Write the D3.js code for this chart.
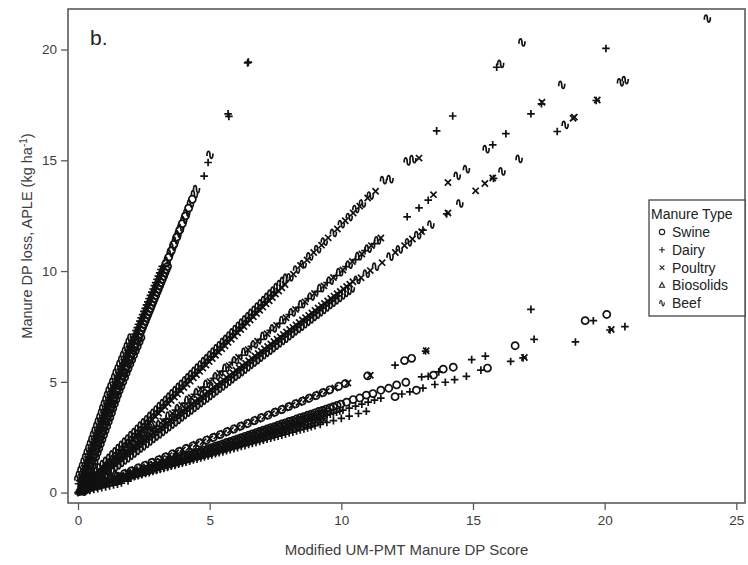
<!DOCTYPE html>
<html><head><meta charset="utf-8">
<script src="https://cdn.jsdelivr.net/npm/d3@7"></script>
<style>body{margin:0;background:#fff}svg{display:block;font-family:"Liberation Sans",Arial,sans-serif}</style>
</head><body><svg id="chart" width="748" height="565"></svg>
<script>
// Axis ticks
const xTicks = [0, 5, 10, 15, 20, 25];
const yTicks = [0, 5, 10, 15, 20];
const manureTypes = ["Swine", "Dairy", "Poultry", "Biosolids", "Beef"];

// Points: [UM-PMT manure DP score, APLE manure DP loss]
const swine = [
  [0.22,0.40],[0.26,0.54],[0.30,0.67],[0.34,0.80],[0.38,0.94],[0.42,1.07],[0.46,1.21],[0.50,1.34],[0.54,1.47],[0.58,1.61],[0.62,1.74],[0.66,1.88],[0.70,2.01],[0.74,2.14],[0.78,2.28],[0.82,2.41],[0.86,2.55],[0.90,2.68],[0.94,2.81],[0.98,2.95],[1.02,3.08],[1.06,3.22],[1.10,3.35],[1.14,3.48],[1.18,3.62],[1.22,3.75],[1.26,3.89],[1.30,4.02],[1.34,4.15],[1.38,4.29],[1.42,4.42],[1.46,4.56],[1.50,4.69],
  [1.55,4.84],[1.60,4.98],[1.65,5.13],[1.70,5.27],[1.75,5.42],[1.80,5.56],[1.85,5.71],[1.90,5.85],[1.95,6.00],[2.00,6.14],[2.05,6.29],[2.10,6.43],[2.15,6.58],[2.20,6.72],[2.25,6.87],[2.30,7.01],[2.35,7.16],[2.40,7.31],[2.45,7.45],[2.50,7.60],[2.55,7.74],[2.60,7.89],[2.65,8.03],[2.70,8.18],[2.75,8.32],[2.80,8.47],[2.85,8.61],[2.90,8.76],[2.95,8.90],[3.00,9.05],[3.05,9.19],[3.10,9.34],[3.15,9.48],[3.20,9.63],[3.25,9.77],[3.30,9.92],[3.35,10.07],[3.40,10.21],
  [0.37,0.6],[0.43,0.8],[0.49,1.0],[0.55,1.2],[0.61,1.4],[0.67,1.6],[0.73,1.8],[0.79,2.0],[0.85,2.2],[0.91,2.4],[0.97,2.6],[1.03,2.8],[1.09,3.0],[1.15,3.2],[1.21,3.4],[1.27,3.6],[1.32,3.8],[1.38,4.0],[1.44,4.2],[1.50,4.4],[1.56,4.6],[1.63,4.8],[1.70,5.0],[1.77,5.2],[1.83,5.4],[1.90,5.6],[1.97,5.8],[2.04,6.0],[2.11,6.2],[2.18,6.4],[2.25,6.6],[2.32,6.8],[2.39,7.0],
  [3.35,10.36],[3.44,10.62],[3.54,10.91],[3.64,11.2],[3.75,11.53],[3.86,11.85],[3.96,12.14],[4.08,12.49],[4.2,12.84],[4.34,13.24],
  [0.20,0.10],[0.46,0.22],[0.72,0.35],[0.98,0.48],[1.24,0.60],[1.50,0.73],[1.76,0.85],[2.02,0.98],[2.28,1.11],[2.54,1.23],[2.80,1.36],[3.06,1.48],[3.32,1.61],[3.58,1.74],[3.84,1.86],[4.10,1.99],[4.36,2.11],[4.62,2.24],[4.88,2.37],[5.14,2.49],[5.40,2.62],[5.66,2.75],[5.92,2.87],[6.18,3.00],[6.44,3.12],[6.70,3.25],[6.96,3.38],[7.22,3.50],[7.48,3.63],[7.74,3.75],[8.00,3.88],[8.26,4.01],[8.52,4.13],[8.78,4.26],[9.04,4.38],[9.30,4.51],[9.56,4.64],
  [2.00,0.80],[2.14,0.86],[2.28,0.91],[2.42,0.97],[2.56,1.02],[2.70,1.08],[2.84,1.14],[2.98,1.19],[3.12,1.25],[3.26,1.30],[3.40,1.36],[3.54,1.42],[3.68,1.47],[3.82,1.53],[3.96,1.58],[4.10,1.64],[4.24,1.70],[4.38,1.75],[4.52,1.81],[4.66,1.86],[4.80,1.92],[4.94,1.98],[5.08,2.03],[5.22,2.09],[5.36,2.14],[5.50,2.20],[5.64,2.26],[5.78,2.31],[5.92,2.37],[6.06,2.42],[6.20,2.48],[6.34,2.54],[6.48,2.59],[6.62,2.65],[6.76,2.70],[6.90,2.76],[7.04,2.82],[7.18,2.87],[7.32,2.93],[7.46,2.98],[7.60,3.04],[7.74,3.10],[7.88,3.15],[8.02,3.21],[8.16,3.26],[8.30,3.32],[8.44,3.38],[8.58,3.43],[8.72,3.49],[8.86,3.54],[9.00,3.60],[9.14,3.66],[9.28,3.71],[9.42,3.77],[9.56,3.82],[9.70,3.88],[9.84,3.94],[9.98,3.99],
  [10.2,4.08],[10.45,4.2],[10.7,4.27],[10.95,4.4],[11.2,4.47],[11.5,4.62],[11.8,4.71],[12.1,4.86],[12.45,4.98],
  [1.50,0.58],[1.64,0.63],[1.78,0.69],[1.92,0.74],[2.06,0.79],[2.20,0.85],[2.34,0.90],[2.48,0.95],[2.62,1.01],[2.76,1.06],[2.90,1.12],[3.04,1.17],[3.18,1.22],[3.32,1.28],[3.46,1.33],[3.60,1.39],[3.74,1.44],[3.88,1.49],[4.02,1.55],[4.16,1.60],[4.30,1.66],[4.44,1.71],[4.58,1.76],[4.72,1.82],[4.86,1.87],[5.00,1.93],[5.14,1.98],[5.28,2.03],[5.42,2.09],[5.56,2.14],[5.70,2.19],[5.84,2.25],[5.98,2.30],[6.12,2.36],[6.26,2.41],[6.40,2.46],[6.54,2.52],[6.68,2.57],[6.82,2.63],[6.96,2.68],[7.10,2.73],[7.24,2.79],[7.38,2.84],[7.52,2.90],[7.66,2.95],[7.80,3.00],[7.94,3.06],[8.08,3.11],[8.22,3.16],[8.36,3.22],[8.50,3.27],[8.64,3.33],[8.78,3.38],[8.92,3.43],[9.06,3.49],[9.20,3.54],[9.34,3.60],[9.48,3.65],
  [9.9,4.8],[10.15,4.92],[11.0,5.27],[12.4,5.96],[12.67,6.06],[13.5,5.3],[13.87,5.57],[14.25,5.66],[15.55,5.62],[12.04,4.33],[12.85,4.62],[16.6,6.63],[19.26,7.76],[20.08,8.04]
];

const dairy = [
  [0.00,0.00],[0.04,0.02],
  [0.02,0.40],[0.06,0.54],[0.10,0.67],[0.14,0.80],[0.18,0.94],[0.22,1.07],[0.26,1.21],[0.30,1.34],[0.34,1.47],[0.38,1.61],[0.42,1.74],[0.46,1.88],[0.50,2.01],[0.54,2.14],[0.58,2.28],[0.62,2.41],[0.66,2.55],[0.70,2.68],[0.74,2.81],[0.78,2.95],[0.82,3.08],[0.86,3.22],[0.90,3.35],[0.94,3.48],[0.98,3.62],[1.02,3.75],[1.06,3.89],[1.10,4.02],[1.14,4.15],[1.18,4.29],[1.22,4.42],[1.26,4.56],[1.30,4.69],
  [1.35,4.84],[1.40,4.98],[1.45,5.13],[1.50,5.27],[1.55,5.42],[1.60,5.56],[1.65,5.71],[1.70,5.85],[1.75,6.00],[1.80,6.14],[1.85,6.29],[1.90,6.43],[1.95,6.58],[2.00,6.72],[2.05,6.87],[2.10,7.01],[2.15,7.16],[2.20,7.31],[2.25,7.45],[2.30,7.60],[2.35,7.74],[2.40,7.89],[2.45,8.03],[2.50,8.18],[2.55,8.32],[2.60,8.47],[2.65,8.61],[2.70,8.76],[2.75,8.90],[2.80,9.05],[2.85,9.19],[2.90,9.34],[2.95,9.48],[3.00,9.63],[3.05,9.77],[3.10,9.92],[3.15,10.07],[3.20,10.21],
  [4.79,14.29],[4.94,14.9],[5.7,17.1],[5.73,16.98],[6.44,19.4],[6.47,19.43],
  [0.15,0.18],[0.27,0.33],[0.39,0.47],[0.51,0.62],[0.63,0.76],[0.75,0.91],[0.87,1.05],[0.99,1.20],[1.11,1.34],[1.23,1.49],[1.35,1.63],[1.47,1.78],[1.59,1.92],[1.71,2.07],[1.83,2.21],[1.95,2.36],[2.07,2.50],[2.19,2.65],[2.31,2.80],[2.43,2.94],[2.55,3.09],[2.67,3.23],[2.79,3.38],[2.91,3.52],[3.03,3.67],[3.15,3.81],[3.27,3.96],[3.39,4.10],[3.51,4.25],[3.63,4.39],[3.75,4.54],[3.87,4.68],[3.99,4.83],[4.11,4.97],[4.23,5.12],[4.35,5.26],[4.47,5.41],[4.59,5.55],[4.71,5.70],[4.83,5.84],[4.95,5.99],[5.07,6.13],[5.19,6.28],[5.31,6.43],[5.43,6.57],[5.55,6.72],[5.67,6.86],[5.79,7.01],[5.91,7.15],[6.03,7.30],[6.15,7.44],[6.27,7.59],[6.39,7.73],[6.51,7.88],[6.63,8.02],[6.75,8.17],[6.87,8.31],[6.99,8.46],[7.11,8.60],[7.23,8.75],[7.35,8.89],[7.47,9.04],
  [0.10,0.11],[0.46,0.45],[0.82,0.83],[1.18,1.17],[1.54,1.56],[1.90,1.89],[2.26,2.28],[2.62,2.60],[2.98,3.00],[3.34,3.32],[3.70,3.72],[4.06,4.04],[4.42,4.44],[4.78,4.76],[5.14,5.16],[5.50,5.48],[5.86,5.88],[6.22,6.20],[6.58,6.60],[6.94,6.92],[7.30,7.32],[7.66,7.64],[8.02,8.04],[8.38,8.36],[8.74,8.76],[9.10,9.08],[9.46,9.48],[9.82,9.80],[10.18,10.20],[10.54,10.52],[10.90,10.92],[11.26,11.24],
  [12.5,12.45],[12.95,12.85],[13.3,13.2],[15.75,15.7],[16.25,16.2],[17.2,17.1],[17.6,17.55],[20.05,20.05],
  [13.62,16.33],[14.23,17.0],[15.9,19.2],
  [0.15,0.14],[0.27,0.24],[0.39,0.35],[0.51,0.46],[0.63,0.57],[0.75,0.68],[0.87,0.78],[0.99,0.89],[1.11,1.00],[1.23,1.11],[1.35,1.22],[1.47,1.32],[1.59,1.43],[1.71,1.54],[1.83,1.65],[1.95,1.76],[2.07,1.86],[2.19,1.97],[2.31,2.08],[2.43,2.19],[2.55,2.30],[2.67,2.40],[2.79,2.51],[2.91,2.62],[3.03,2.73],[3.15,2.84],[3.27,2.94],[3.39,3.05],[3.51,3.16],[3.63,3.27],[3.75,3.38],[3.87,3.48],[3.99,3.59],[4.11,3.70],[4.23,3.81],[4.35,3.92],[4.47,4.02],[4.59,4.13],[4.71,4.24],[4.83,4.35],[4.95,4.46],[5.07,4.56],[5.19,4.67],[5.31,4.78],[5.43,4.89],[5.55,5.00],[5.67,5.10],[5.79,5.21],[5.91,5.32],[6.03,5.43],[6.15,5.54],[6.27,5.64],[6.39,5.75],[6.51,5.86],[6.63,5.97],[6.75,6.08],[6.87,6.18],[6.99,6.29],[7.11,6.40],[7.23,6.51],[7.35,6.62],[7.47,6.72],[7.59,6.83],[7.71,6.94],[7.83,7.05],[7.95,7.16],[8.07,7.26],[8.19,7.37],[8.31,7.48],[8.43,7.59],[8.55,7.70],[8.67,7.80],[8.79,7.91],[8.91,8.02],[9.03,8.13],[9.15,8.24],[9.27,8.34],[9.39,8.45],[9.51,8.56],[9.63,8.67],[9.75,8.78],[9.87,8.88],
  [13.1,11.85],[14.0,12.58],[15.78,14.18],[18.2,16.3],[19.68,17.7],
  [0.10,0.04],[0.22,0.08],[0.34,0.13],[0.46,0.17],[0.58,0.21],[0.70,0.26],[0.82,0.30],[0.94,0.35],[1.06,0.39],[1.18,0.44],[1.30,0.48],[1.42,0.53],[1.54,0.57],[1.66,0.61],[1.78,0.66],[1.90,0.70],[2.02,0.75],[2.14,0.79],[2.26,0.84],[2.38,0.88],[2.50,0.93],[2.62,0.97],[2.74,1.01],[2.86,1.06],[2.98,1.10],[3.10,1.15],[3.22,1.19],[3.34,1.24],[3.46,1.28],[3.58,1.32],[3.70,1.37],[3.82,1.41],[3.94,1.46],[4.06,1.50],[4.18,1.55],[4.30,1.59],[4.42,1.64],[4.54,1.68],[4.66,1.72],[4.78,1.77],[4.90,1.81],[5.02,1.86],[5.14,1.90],[5.26,1.95],[5.38,1.99],[5.50,2.04],[5.62,2.08],[5.74,2.12],[5.86,2.17],[5.98,2.21],[6.10,2.26],[6.22,2.30],[6.34,2.35],[6.46,2.39],[6.58,2.43],[6.70,2.48],[6.82,2.52],[6.94,2.57],[7.06,2.61],[7.18,2.66],[7.30,2.70],[7.42,2.75],[7.54,2.79],[7.66,2.83],[7.78,2.88],[7.90,2.92],[8.02,2.97],[8.14,3.01],[8.26,3.06],[8.38,3.10],[8.50,3.15],[8.62,3.19],[8.74,3.23],[8.86,3.28],[8.98,3.32],[9.10,3.37],[9.22,3.41],[9.34,3.46],[9.46,3.50],[9.58,3.54],[9.70,3.59],[9.82,3.63],[9.94,3.68],
  [10.06,3.72],[10.30,3.81],[10.54,3.90],[10.78,3.99],[11.02,4.08],[11.26,4.17],[11.50,4.26],
  [2.00,0.67],[2.14,0.72],[2.28,0.76],[2.42,0.81],[2.56,0.86],[2.70,0.90],[2.84,0.95],[2.98,1.00],[3.12,1.05],[3.26,1.09],[3.40,1.14],[3.54,1.19],[3.68,1.23],[3.82,1.28],[3.96,1.33],[4.10,1.37],[4.24,1.42],[4.38,1.47],[4.52,1.51],[4.66,1.56],[4.80,1.61],[4.94,1.65],[5.08,1.70],[5.22,1.75],[5.36,1.80],[5.50,1.84],[5.64,1.89],[5.78,1.94],[5.92,1.98],[6.06,2.03],[6.20,2.08],[6.34,2.12],[6.48,2.17],[6.62,2.22],[6.76,2.26],[6.90,2.31],[7.04,2.36],[7.18,2.41],[7.32,2.45],[7.46,2.50],[7.60,2.55],[7.74,2.59],[7.88,2.64],[8.02,2.69],[8.16,2.73],[8.30,2.78],[8.44,2.83],[8.58,2.87],[8.72,2.92],[8.86,2.97],[9.00,3.02],[9.20,3.08],[9.45,3.17],[9.70,3.25],[10.0,3.35],[10.3,3.45],[10.65,3.57],[10.95,3.67],
  [0.30,0.06],[0.45,0.10],[0.60,0.14],[0.75,0.18],[0.90,0.22],[1.05,0.26],[1.20,0.30],[1.35,0.34],[1.50,0.38],[1.65,0.43],[1.90,0.52],
  [12.04,5.75],[13.05,5.22],[13.3,5.25],[13.7,5.45],[14.95,6.0],[15.47,6.16],[15.3,5.53],[16.43,5.92],[16.9,6.08],[12.3,4.45],[12.6,4.55],[13.1,4.72],[13.55,4.88],[13.95,4.98],[14.3,5.1],[14.75,5.25],[17.2,8.27],[17.32,6.92],[18.89,6.8],[19.57,7.76],[20.2,7.34],[20.77,7.49],[13.2,6.39]
];

const poultry = [
  [0.14,0.47],[0.18,0.60],[0.22,0.74],[0.26,0.87],[0.30,1.01],[0.34,1.14],[0.38,1.27],[0.42,1.41],[0.46,1.54],[0.50,1.68],[0.54,1.81],[0.58,1.94],[0.62,2.08],[0.66,2.21],[0.70,2.35],[0.74,2.48],[0.78,2.61],[0.82,2.75],[0.86,2.88],[0.90,3.02],[0.94,3.15],[0.98,3.28],[1.02,3.42],[1.06,3.55],[1.10,3.69],[1.14,3.82],[1.18,3.95],[1.22,4.09],[1.26,4.22],[1.30,4.36],[1.34,4.49],[1.38,4.62],
  [1.43,4.78],[1.48,4.92],[1.53,5.07],[1.58,5.21],[1.63,5.36],[1.68,5.50],[1.73,5.65],[1.78,5.79],[1.83,5.94],[1.88,6.08],[1.93,6.23],[1.98,6.38],[2.03,6.52],[2.08,6.67],[2.13,6.81],[2.18,6.96],[2.23,7.10],[2.28,7.25],[2.33,7.39],[2.38,7.54],[2.43,7.68],[2.48,7.83],[2.53,7.97],[2.58,8.12],[2.63,8.26],[2.68,8.41],[2.73,8.55],[2.78,8.70],[2.83,8.85],[2.88,8.99],[2.93,9.14],[2.98,9.28],[3.03,9.43],[3.08,9.57],[3.13,9.72],[3.18,9.86],[3.23,10.01],[3.28,10.15],
  [0.18,0.10],[0.30,0.24],[0.42,0.39],[0.54,0.53],[0.66,0.68],[0.78,0.82],[0.90,0.97],[1.02,1.11],[1.14,1.26],[1.26,1.40],[1.38,1.55],[1.50,1.70],[1.62,1.84],[1.74,1.99],[1.86,2.13],[1.98,2.28],[2.10,2.42],[2.22,2.57],[2.34,2.71],[2.46,2.86],[2.58,3.00],[2.70,3.15],[2.82,3.29],[2.94,3.44],[3.06,3.58],[3.18,3.73],[3.30,3.87],[3.42,4.02],[3.54,4.16],[3.66,4.31],[3.78,4.45],[3.90,4.60],[4.02,4.74],[4.14,4.89],[4.26,5.03],[4.38,5.18],[4.50,5.32],[4.62,5.47],[4.74,5.62],[4.86,5.76],[4.98,5.91],[5.10,6.05],[5.22,6.20],[5.34,6.34],[5.46,6.49],[5.58,6.63],[5.70,6.78],[5.82,6.92],[5.94,7.07],[6.06,7.21],[6.18,7.36],[6.30,7.50],[6.42,7.65],[6.54,7.79],[6.66,7.94],[6.78,8.08],[6.90,8.23],[7.02,8.37],[7.14,8.52],[7.26,8.66],[7.38,8.81],[7.50,8.96],[7.62,9.10],[7.74,9.25],[7.86,9.39],
  [8.18,9.86],[8.45,10.25],[8.7,10.5],[8.95,10.84],[9.25,11.17],[9.5,11.5],[9.85,11.9],[10.15,12.27],[10.45,12.62],[10.7,12.93],[11.0,13.3],[11.3,13.6],[12.95,15.1],
  [0.34,0.35],[0.70,0.69],[1.06,1.07],[1.42,1.41],[1.78,1.79],[2.14,2.13],[2.50,2.51],[2.86,2.85],[3.22,3.23],[3.58,3.57],[3.94,3.95],[4.30,4.29],[4.66,4.67],[5.02,5.01],[5.38,5.39],[5.74,5.73],[6.10,6.11],[6.46,6.45],[6.82,6.83],[7.18,7.17],[7.54,7.55],[7.90,7.89],[8.26,8.27],[8.62,8.61],[8.98,8.99],[9.34,9.33],[9.70,9.71],[10.06,10.05],[10.42,10.43],[10.78,10.77],[11.14,11.15],[11.50,11.49],
  [13.5,13.45],[14.05,14.0],[17.62,17.62],
  [0.12,0.23],[0.24,0.34],[0.36,0.44],[0.48,0.55],[0.60,0.66],[0.72,0.77],[0.84,0.88],[0.96,0.98],[1.08,1.09],[1.20,1.20],[1.32,1.31],[1.44,1.42],[1.56,1.52],[1.68,1.63],[1.80,1.74],[1.92,1.85],[2.04,1.96],[2.16,2.06],[2.28,2.17],[2.40,2.28],[2.52,2.39],[2.64,2.50],[2.76,2.60],[2.88,2.71],[3.00,2.82],[3.12,2.93],[3.24,3.04],[3.36,3.14],[3.48,3.25],[3.60,3.36],[3.72,3.47],[3.84,3.58],[3.96,3.68],[4.08,3.79],[4.20,3.90],[4.32,4.01],[4.44,4.12],[4.56,4.22],[4.68,4.33],[4.80,4.44],[4.92,4.55],[5.04,4.66],[5.16,4.76],[5.28,4.87],[5.40,4.98],[5.52,5.09],[5.64,5.20],[5.76,5.30],[5.88,5.41],[6.00,5.52],[6.12,5.63],[6.24,5.74],[6.36,5.84],[6.48,5.95],[6.60,6.06],[6.72,6.17],[6.84,6.28],[6.96,6.38],[7.08,6.49],[7.20,6.60],[7.32,6.71],[7.44,6.82],[7.56,6.92],[7.68,7.03],[7.80,7.14],[7.92,7.25],[8.04,7.36],[8.16,7.46],[8.28,7.57],[8.40,7.68],[8.52,7.79],[8.64,7.90],[8.76,8.00],[8.88,8.11],[9.00,8.22],[9.12,8.33],[9.24,8.44],[9.36,8.54],[9.48,8.65],[9.60,8.76],[9.72,8.87],[9.84,8.98],[9.96,9.08],[10.08,9.19],[10.20,9.30],[10.32,9.41],[10.44,9.52],
  [10.75,9.7],[11.1,10.02],[11.55,10.38],[12.05,10.84],[12.4,11.15],[12.7,11.45],[13.05,11.78],[14.05,12.62],[15.1,13.62],[15.45,13.95],[15.75,14.2],[18.8,16.9],[18.85,16.95],[19.72,17.72],
  [0.33,0.16],[0.59,0.29],[0.85,0.41],[1.11,0.54],[1.37,0.66],[1.63,0.79],[1.89,0.92],[2.15,1.04],[2.41,1.17],[2.67,1.29],[2.93,1.42],[3.19,1.55],[3.45,1.67],[3.71,1.80],[3.97,1.93],[4.23,2.05],[4.49,2.18],[4.75,2.30],[5.01,2.43],[5.27,2.56],[5.53,2.68],[5.79,2.81],[6.05,2.93],[6.31,3.06],[6.57,3.19],[6.83,3.31],[7.09,3.44],[7.35,3.56],[7.61,3.69],[7.87,3.82],[8.13,3.94],[8.39,4.07],[8.65,4.20],[8.91,4.32],[9.17,4.45],[9.43,4.57],
  [0.50,0.22],[0.64,0.28],[0.78,0.34],[0.92,0.40],[1.06,0.47],[1.20,0.53],[1.34,0.59],[1.48,0.65],[1.62,0.71],[1.76,0.77],[1.90,0.84],[2.04,0.90],[2.18,0.96],[2.32,1.02],[2.46,1.08],[2.60,1.14],[2.74,1.21],[2.88,1.27],[3.02,1.33],[3.16,1.39],[3.30,1.45],[3.44,1.51],[3.58,1.58],[3.72,1.64],[3.86,1.70],[4.00,1.76],
  [2.07,0.73],[2.21,0.78],[2.35,0.83],[2.49,0.88],[2.63,0.93],[2.77,0.98],[2.91,1.02],[3.05,1.07],[3.19,1.12],[3.33,1.17],[3.47,1.22],[3.61,1.27],[3.75,1.32],[3.89,1.37],[4.03,1.42],[4.17,1.47],[4.31,1.52],[4.45,1.57],[4.59,1.62],[4.73,1.66],[4.87,1.71],[5.01,1.76],[5.15,1.81],[5.29,1.86],[5.43,1.91],[5.57,1.96],[5.71,2.01],[5.85,2.06],[5.99,2.11],[6.13,2.16],[6.27,2.21],[6.41,2.26],[6.55,2.31],[6.69,2.35],[6.83,2.40],[6.97,2.45],[7.11,2.50],[7.25,2.55],[7.39,2.60],[7.53,2.65],[7.67,2.70],[7.81,2.75],[7.95,2.80],[8.09,2.85],[8.23,2.90],[8.37,2.95],[8.51,3.00],[8.65,3.04],[8.79,3.09],[8.93,3.14],[9.07,3.19],[9.21,3.24],[9.35,3.29],
  [9.75,4.72],[10.25,4.95],[11.1,5.3],[13.22,6.4],[16.95,6.1],[20.25,7.36]
];

const biosolids = [
  [0.15,0.17],[0.27,0.30],[0.39,0.43],[0.51,0.56],[0.63,0.69],[0.75,0.83],[0.87,0.96],[0.99,1.09],[1.11,1.22],[1.23,1.35],[1.35,1.49],[1.47,1.62],[1.59,1.75],[1.71,1.88],[1.83,2.01],[1.95,2.15],[2.07,2.28],[2.19,2.41],[2.31,2.54],[2.43,2.67],[2.55,2.81],[2.67,2.94],[2.79,3.07],
  [0.10,0.16],[0.20,0.32],[0.30,0.48],[0.40,0.64],[0.50,0.80],[0.10,0.20],[0.20,0.40],[0.30,0.60],[0.40,0.80],[0.08,0.21],[0.16,0.42],[0.24,0.62],[0.32,0.83],
  [0.15,0.10],[0.30,0.21],[0.45,0.32],[0.60,0.42],[0.75,0.53],[0.90,0.63],[1.05,0.74],[0.20,0.12],[0.40,0.24],[0.60,0.36],[0.80,0.48],[1.00,0.60],[1.20,0.72],[1.40,0.84],
  [0.05,0.05],[0.12,0.02],[0.30,0.12],[0.60,0.28]
];

const beef = [
  [-0.01,0.6],[0.05,0.8],[0.11,1.0],[0.17,1.2],[0.23,1.4],[0.29,1.6],[0.35,1.8],[0.41,2.0],[0.47,2.2],[0.53,2.4],[0.59,2.6],[0.65,2.8],[0.71,3.0],[0.77,3.2],[0.83,3.4],[0.89,3.6],[0.94,3.8],[1.00,4.0],[1.06,4.2],[1.12,4.4],[1.18,4.6],[1.25,4.8],[1.32,5.0],[1.39,5.2],[1.45,5.4],[1.52,5.6],[1.59,5.8],[1.66,6.0],[1.73,6.2],[1.80,6.4],[1.87,6.6],[1.94,6.8],[2.01,7.0],
  [3.39,10.47],[3.5,10.8],[3.6,11.09],[3.7,11.38],[3.8,11.67],[3.9,11.96],[4.02,12.31],[4.13,12.63],[4.27,13.04],[4.42,13.47],[4.5,13.7],[5.01,15.25],
  [0.12,0.27],[0.24,0.41],[0.36,0.56],[0.48,0.70],[0.60,0.85],[0.72,0.99],[0.84,1.14],[0.96,1.28],[1.08,1.43],[1.20,1.57],[1.32,1.72],[1.44,1.86],[1.56,2.01],[1.68,2.15],[1.80,2.30],[1.92,2.44],[2.04,2.59],[2.16,2.73],[2.28,2.88],[2.40,3.02],[2.52,3.17],[2.64,3.31],[2.76,3.46],[2.88,3.60],[3.00,3.75],[3.12,3.90],[3.24,4.04],[3.36,4.19],[3.48,4.33],[3.60,4.48],[3.72,4.62],[3.84,4.77],[3.96,4.91],[4.08,5.06],[4.20,5.20],[4.32,5.35],[4.44,5.49],[4.56,5.64],[4.68,5.78],[4.80,5.93],[4.92,6.07],[5.04,6.22],[5.16,6.36],[5.28,6.51],[5.40,6.65],[5.52,6.80],[5.64,6.94],[5.76,7.09],[5.88,7.23],[6.00,7.38],[6.12,7.53],[6.24,7.67],[6.36,7.82],[6.48,7.96],[6.60,8.11],[6.72,8.25],[6.84,8.40],[6.96,8.54],[7.08,8.69],[7.20,8.83],[7.32,8.98],[7.44,9.12],[7.56,9.27],[7.68,9.41],[7.80,9.56],[7.92,9.70],
  [8.05,9.72],[8.3,10.07],[8.55,10.31],[8.8,10.66],[9.1,10.99],[9.35,11.33],[9.7,11.72],[10.0,12.12],[10.3,12.44],[10.55,12.8],[10.8,13.05],[11.1,13.41],[11.6,14.1],[11.85,14.15],[12.5,14.95],[12.72,15.05],[16.05,19.35],[16.86,20.32],
  [0.22,0.21],[0.58,0.59],[0.94,0.93],[1.30,1.31],[1.66,1.65],[2.02,2.03],[2.38,2.37],[2.74,2.75],[3.10,3.09],[3.46,3.47],[3.82,3.81],[4.18,4.19],[4.54,4.53],[4.90,4.91],[5.26,5.25],[5.62,5.63],[5.98,5.97],[6.34,6.35],[6.70,6.69],[7.06,7.07],[7.42,7.41],[7.78,7.79],[8.14,8.13],[8.50,8.51],[8.86,8.85],[9.22,9.23],[9.58,9.57],[9.94,9.95],[10.30,10.29],[10.66,10.67],[11.02,11.01],[11.38,11.39],
  [14.4,14.3],[14.75,14.6],[15.5,15.5],[18.37,18.4],
  [0.18,0.04],[0.30,0.15],[0.42,0.26],[0.54,0.37],[0.66,0.47],[0.78,0.58],[0.90,0.69],[1.02,0.80],[1.14,0.91],[1.26,1.01],[1.38,1.12],[1.50,1.23],[1.62,1.34],[1.74,1.45],[1.86,1.55],[1.98,1.66],[2.10,1.77],[2.22,1.88],[2.34,1.99],[2.46,2.09],[2.58,2.20],[2.70,2.31],[2.82,2.42],[2.94,2.53],[3.06,2.63],[3.18,2.74],[3.30,2.85],[3.42,2.96],[3.54,3.07],[3.66,3.17],[3.78,3.28],[3.90,3.39],[4.02,3.50],[4.14,3.61],[4.26,3.71],[4.38,3.82],[4.50,3.93],[4.62,4.04],[4.74,4.15],[4.86,4.25],[4.98,4.36],[5.10,4.47],[5.22,4.58],[5.34,4.69],[5.46,4.79],[5.58,4.90],[5.70,5.01],[5.82,5.12],[5.94,5.23],[6.06,5.33],[6.18,5.44],[6.30,5.55],[6.42,5.66],[6.54,5.77],[6.66,5.87],[6.78,5.98],[6.90,6.09],[7.02,6.20],[7.14,6.31],[7.26,6.41],[7.38,6.52],[7.50,6.63],[7.62,6.74],[7.74,6.85],[7.86,6.95],[7.98,7.06],[8.10,7.17],[8.22,7.28],[8.34,7.39],[8.46,7.49],[8.58,7.60],[8.70,7.71],[8.82,7.82],[8.94,7.93],[9.06,8.03],[9.18,8.14],[9.30,8.25],[9.42,8.36],[9.54,8.47],[9.66,8.57],[9.78,8.68],[9.90,8.79],[10.02,8.90],[10.14,9.01],[10.26,9.11],[10.38,9.22],
  [10.6,9.6],[10.95,9.88],[11.3,10.2],[11.85,10.65],[12.2,10.98],[12.55,11.3],[12.9,11.62],[13.4,12.1],[14.5,13.05],[16.1,14.5],[16.75,15.06],[18.5,16.6],[20.6,18.52],[20.78,18.62],[23.9,21.4]
];

const series = { Swine: swine, Dairy: dairy, Poultry: poultry, Biosolids: biosolids, Beef: beef };

// Marker glyphs for each manure type
const glyph = {
  Swine: d3.symbol(d3.symbolCircle, 40)(),
  Dairy: "M-3.8,0H3.8M0,-3.8V3.8",
  Poultry: "M-3.1,-3.1L3.1,3.1M-3.1,3.1L3.1,-3.1",
  Biosolids: "M0,-3.8L3.4,2.5H-3.4Z",
  Beef: "M-3,1.2C-3,-5.2 0,-4.6 0,0C0,4.6 3,5.2 3,-1.2"
};

const frame = { left: 68, right: 745, top: 9, bottom: 503 };
const svg = d3.select("#chart");
const x = d3.scaleLinear().domain([-0.38, 25.33]).range([frame.left, frame.right]);
const y = d3.scaleLinear().domain([-0.47, 21.83]).range([frame.bottom, frame.top]);
const textColor = "#3d3d3d";

// Scatter marks
const plot = svg.append("g");
manureTypes.forEach(t => {
  plot.append("g").selectAll("path").data(series[t]).join("path")
    .attr("d", glyph[t])
    .attr("transform", d => `translate(${x(d[0]).toFixed(2)},${y(d[1]).toFixed(2)})`)
    .attr("fill", "none").attr("stroke", "#111").attr("stroke-width", 1.7);
});

// Plot frame
svg.append("rect")
  .attr("x", frame.left).attr("y", frame.top)
  .attr("width", frame.right - frame.left).attr("height", frame.bottom - frame.top)
  .attr("fill", "none").attr("stroke", "#5a5a5a").attr("stroke-width", 1.6);

// Axes
const yAxis = svg.append("g").attr("transform", `translate(${frame.left},0)`)
  .call(d3.axisLeft(y).tickValues(yTicks).tickSize(7).tickPadding(4));
const xAxis = svg.append("g").attr("transform", `translate(0,${frame.bottom})`)
  .call(d3.axisBottom(x).tickValues(xTicks).tickSize(7).tickPadding(5));
[yAxis, xAxis].forEach(a => {
  a.select(".domain").remove();
  a.selectAll(".tick line").attr("stroke", "#5a5a5a").attr("stroke-width", 1.3);
  a.selectAll(".tick text").attr("fill", textColor).style("font-size", "13.5px")
    .style("font-family", '"Liberation Sans", Arial, sans-serif');
});

// Axis titles
svg.append("text").attr("x", (frame.left + frame.right) / 2).attr("y", 555)
  .attr("text-anchor", "middle").attr("fill", textColor).style("font-size", "15px")
  .text("Modified UM-PMT Manure DP Score");
const yt = svg.append("text").attr("transform", "translate(32,236) rotate(-90)")
  .attr("text-anchor", "middle").attr("fill", textColor).style("font-size", "14.5px");
yt.append("tspan").text("Manure DP loss, APLE (kg ha");
yt.append("tspan").attr("dy", -5).style("font-size", "10px").text("-1");
yt.append("tspan").attr("dy", 5).text(")");

// Panel label
svg.append("text").attr("x", 90).attr("y", 45).attr("fill", "#222")
  .style("font-size", "21px").text("b.");

// Legend
const lg = svg.append("g");
lg.append("rect").attr("x", 649).attr("y", 200).attr("width", 96).attr("height", 116)
  .attr("fill", "#fff").attr("stroke", "#444").attr("stroke-width", 1.3);
lg.append("text").attr("x", 651).attr("y", 219).attr("fill", "#222")
  .style("font-size", "14px").text("Manure Type");
manureTypes.forEach((t, i) => {
  const yy = 232 + i * 17.8;
  lg.append("path").attr("d", glyph[t])
    .attr("transform", `translate(662,${yy}) scale(0.75)`)
    .attr("fill", "none").attr("stroke", "#222").attr("stroke-width", 1.5);
  lg.append("text").attr("x", 672).attr("y", yy + 5).attr("fill", "#222")
    .style("font-size", "14px").text(t);
});
</script></body></html>
